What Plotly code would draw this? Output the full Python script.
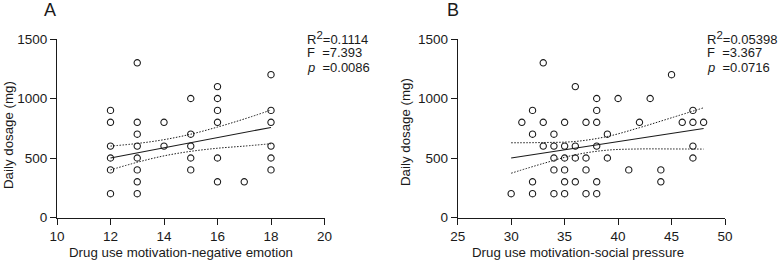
import plotly.graph_objects as go

# ---------------- Data ----------------
# Panel A: Drug use motivation-negative emotion vs daily dosage
a_x = [12]*6 + [13]*8 + [14]*2 + [15]*5 + [16]*6 + [17] + [18]*6
a_y = [900, 800, 600, 500, 400, 200,
       1300, 800, 700, 600, 500, 400, 300, 200,
       800, 600,
       1000, 700, 600, 500, 400,
       1100, 1000, 900, 800, 500, 300,
       300,
       1200, 900, 800, 600, 500, 400]
a_line_x = [12, 13, 14, 15, 16, 17, 18]
a_fit = [500, 543, 586, 628, 671, 714, 757]
a_upper = [600, 622, 654, 700, 760, 828, 903]
a_lower = [400, 464, 518, 556, 582, 600, 620]

# Panel B: Drug use motivation-social pressure vs daily dosage
b_x = [30, 31, 32, 32, 32, 32, 33, 33, 33,
       34, 34, 34, 34, 34,
       35, 35, 35, 35, 35, 35,
       36, 36, 36, 36,
       37, 37, 37, 37,
       38, 38, 38, 38, 38, 38,
       39, 39, 40, 41, 42, 43, 44, 44, 45, 46,
       47, 47, 47, 47, 48]
b_y = [200, 800, 900, 700, 300, 200, 1300, 800, 600,
       700, 600, 500, 400, 200,
       800, 600, 500, 400, 300, 200,
       1100, 600, 500, 300,
       800, 500, 400, 200,
       1000, 900, 800, 600, 300, 200,
       700, 500, 1000, 400, 800, 1000, 400, 300, 1200, 800,
       900, 800, 600, 500, 800]
b_line_x = [30, 33, 36, 39, 42, 45, 48]
b_fit = [500, 542, 583, 625, 667, 708, 748]
b_upper = [628, 630, 639, 681, 755, 838, 922]
b_lower = [372, 454, 527, 566, 576, 576, 575]

SUP2 = "<sup><span style='font-size:11.5px'>2</span></sup>"
a_stats = ["R" + SUP2 + "=0.1114", "F\u00a0\u00a0=7.393", "<i>p</i>\u00a0\u00a0=0.0086"]
b_stats = ["R" + SUP2 + "=0.05398", "F\u00a0\u00a0=3.367", "<i>p</i>\u00a0\u00a0=0.0716"]

a_xticks = [10, 12, 14, 16, 18, 20]
b_xticks = [25, 30, 35, 40, 45, 50]
y_ticks = [0, 500, 1000, 1500]

# ---------------- Figure ----------------
W, H = 779, 263
FONT = "Liberation Sans, Arial, sans-serif"
INK = "#1a1a1a"

fig = go.Figure()

def add_panel(xs, ys, lx, fit, up, lo, xa, ya):
    for band in (up, lo):
        fig.add_trace(go.Scatter(x=lx, y=band, mode="lines",
                                 line=dict(color=INK, width=1, dash="1.5px,1.5px", shape="spline"),
                                 xaxis=xa, yaxis=ya, showlegend=False, hoverinfo="skip"))
    fig.add_trace(go.Scatter(x=[lx[0], lx[-1]], y=[fit[0], fit[-1]], mode="lines", line=dict(color=INK, width=1.1),
                             xaxis=xa, yaxis=ya, showlegend=False, hoverinfo="skip"))
    fig.add_trace(go.Scatter(x=xs, y=ys, mode="markers",
                             marker=dict(symbol="circle-open", size=6.3, color=INK, line=dict(width=1.1, color=INK)),
                             xaxis=xa, yaxis=ya, showlegend=False, cliponaxis=False))

add_panel(a_x, a_y, a_line_x, a_fit, a_upper, a_lower, "x", "y")
add_panel(b_x, b_y, b_line_x, b_fit, b_upper, b_lower, "x2", "y2")

ydom = [1 - 217.5 / H, 1 - 39.0 / H]
axis_common = dict(showline=True, linecolor=INK, linewidth=1, ticks="outside", ticklen=6, tickwidth=1,
                   tickcolor=INK, showgrid=False, zeroline=False, automargin=False,
                   tickfont=dict(family=FONT, size=13.5, color=INK))

fig.update_layout(
    template="none",
    width=W, height=H, margin=dict(l=0, r=0, t=0, b=0, pad=0),
    paper_bgcolor="white", plot_bgcolor="white",
    xaxis=dict(domain=[57.0 / W, 324.5 / W], range=[10, 20], tickvals=a_xticks, anchor="y", **axis_common),
    yaxis=dict(domain=ydom, range=[0, 1500], tickvals=y_ticks, anchor="x", **axis_common),
    xaxis2=dict(domain=[457.7 / W, 725.0 / W], range=[25, 50], tickvals=b_xticks, anchor="y2", **axis_common),
    yaxis2=dict(domain=ydom, range=[0, 1500], tickvals=y_ticks, anchor="x2", **axis_common),
)

def ann(text, x, y, size, xanchor="center", yanchor="middle", angle=0):
    fig.add_annotation(text=text, x=x / W, y=1 - y / H, xref="paper", yref="paper", showarrow=False,
                       xanchor=xanchor, yanchor=yanchor, textangle=angle,
                       font=dict(family=FONT, size=size, color=INK))

# Panel letters
ann("A", 49.5, 10.5, 18)
ann("B", 453, 10.5, 18)
# Axis titles
ann("Drug use motivation-negative emotion", 181, 252, 13.3)
ann("Drug use motivation-social pressure", 578, 252, 13.3)
ann("Daily dosage (mg)", 8, 135, 13.3, angle=-90)
ann("Daily dosage (mg)", 405, 132, 13.3, angle=-90)
# Statistics
for i, t in enumerate(a_stats):
    ann(t, 305, 38 + i * 14.8, 13, xanchor="left")
for i, t in enumerate(b_stats):
    ann(t, 705, 38 + i * 14.8, 13, xanchor="left")

fig.write_html("out.html", config={"displayModeBar": False},
               post_script="document.body.style.margin='0';document.body.style.overflow='hidden';")
